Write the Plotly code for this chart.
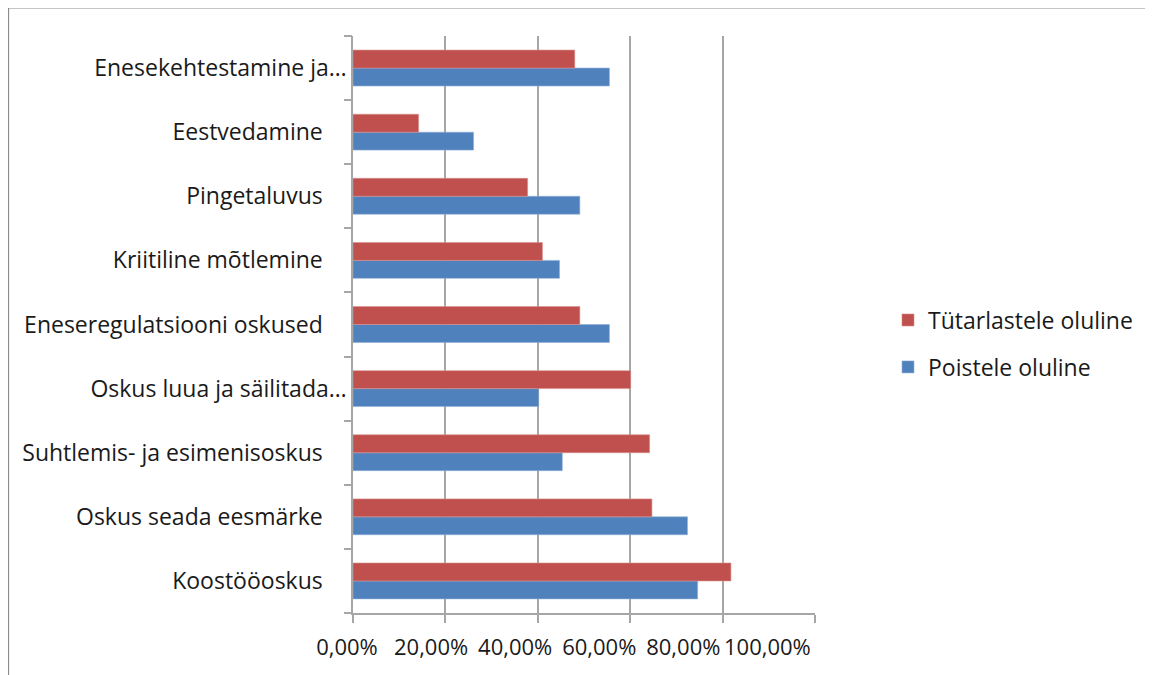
import plotly.graph_objects as go

categories = [
    "Koostööoskus",
    "Oskus seada eesmärke",
    "Suhtlemis- ja esimenisoskus",
    "Oskus luua ja säilitada...",
    "Eneseregulatsiooni oskused",
    "Kriitiline mõtlemine",
    "Pingetaluvus",
    "Eestvedamine",
    "Enesekehtestamine ja...",
]
PAD = "\u00a0" * 4
tick_labels = [
    "Koostööoskus" + PAD,
    "Oskus seada eesmärke" + PAD,
    "Suhtlemis- ja esimenisoskus" + PAD,
    "Oskus luua ja säilitada…",
    "Eneseregulatsiooni oskused" + PAD,
    "Kriitiline mõtlemine" + PAD,
    "Pingetaluvus" + PAD,
    "Eestvedamine" + PAD,
    "Enesekehtestamine ja…",
]
poistele = [0.746, 0.724, 0.453, 0.402, 0.555, 0.447, 0.491, 0.261, 0.555]
tytarlastele = [0.818, 0.647, 0.642, 0.601, 0.491, 0.410, 0.378, 0.142, 0.480]
x_ticks = [0, 0.2, 0.4, 0.6, 0.8, 1.0]
x_tick_text = ["0,00%", "20,00%", "40,00%", "60,00%", "80,00%", "100,00%"]

FONT = "Open Sans"
FS = 23
GRID = "#a6a6a6"
TXT = "#1a1a1a"

fig = go.Figure()
fig.add_trace(go.Bar(
    y=categories, x=poistele, orientation="h", name="Poistele oluline",
    legendgroup="p", legendrank=2,
    marker=dict(color="#4F81BD", line=dict(color="#8fb0d8", width=0.6)),
))
fig.add_trace(go.Bar(
    y=categories, x=tytarlastele, orientation="h", name="Tütarlastele oluline",
    legendgroup="t", legendrank=1,
    marker=dict(color="#C0504D", line=dict(color="#d98f8d", width=0.6)),
))
# invisible trace to host boundary ticks and the (squeezed) percent labels
fig.add_trace(go.Scatter(x=[None], y=[None], yaxis="y2", xaxis="x2",
                         showlegend=False, hoverinfo="skip"))

fig.update_layout(
    width=1153, height=675,
    paper_bgcolor="white", plot_bgcolor="white",
    margin=dict(l=345, r=346, t=28, b=70),
    barmode="group", bargap=0.44, bargroupgap=0,
    font=dict(family=FONT, size=FS, color=TXT),
    showlegend=True,
    legend=dict(
        x=1.158, y=0.467, xanchor="left", yanchor="middle",
        traceorder="grouped", font=dict(family=FONT, size=FS, color=TXT),
        tracegroupgap=14, bgcolor="rgba(0,0,0,0)",
    ),
    xaxis=dict(
        range=[0, 1], tickvals=x_ticks, showticklabels=False,
        showgrid=True, gridcolor=GRID, gridwidth=1.5,
        ticks="outside", ticklen=8, tickcolor=GRID, tickwidth=1.5,
        showline=True, linecolor=GRID, linewidth=1.5,
        zeroline=False, fixedrange=True, automargin=False,
    ),
    xaxis2=dict(
        overlaying="x", side="bottom", range=[0, 1.099],
        tickvals=x_ticks, ticktext=x_tick_text, tickangle=0,
        showgrid=False, showline=False, zeroline=False,
        ticks="outside", ticklen=15, tickcolor="rgba(0,0,0,0)",
        ticklabelshift=-6, automargin=False,
        tickfont=dict(family=FONT, size=22, color=TXT),
    ),
    yaxis=dict(
        type="category", categoryorder="array", categoryarray=categories,
        tickvals=categories, ticktext=tick_labels,
        range=[-0.5, 8.5], ticks="", showgrid=False,
        showline=True, linecolor=GRID, linewidth=1.5,
        ticklabelstandoff=0, automargin=False,
        tickfont=dict(family=FONT, size=FS, color=TXT),
    ),
    yaxis2=dict(
        overlaying="y", side="left", range=[-0.5, 8.5],
        tickvals=[i - 0.5 for i in range(len(categories) + 1)],
        showticklabels=False, ticks="outside", ticklen=8,
        tickcolor=GRID, tickwidth=1.5, showgrid=False, showline=False,
        zeroline=False, automargin=False,
    ),
    shapes=[dict(
        type="rect", xref="paper", yref="paper",
        x0=-0.747, x1=1.75, y0=-0.3, y1=1.05,
        line=dict(color="#8c8c8c", width=2.5), fillcolor="rgba(0,0,0,0)",
        layer="below",
    )],
)

fig.write_html("out.html")
